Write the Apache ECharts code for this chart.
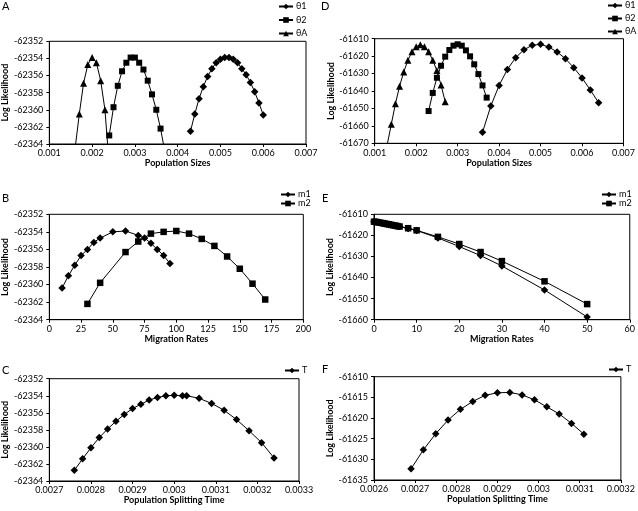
<!DOCTYPE html>
<html>
<head>
<meta charset="utf-8">
<script src="https://cdn.jsdelivr.net/npm/echarts@6/dist/echarts.min.js"></script>
<style>html,body{margin:0;padding:0;background:#fff}#c{width:638px;height:511px}</style>
</head>
<body>
<div id="c"></div>
<script>
// ---- Panel A (population sizes, dataset 1)
const aTheta1X = [0.0043,0.0044,0.0045,0.0046,0.0047,0.0048,0.0049,0.005,0.0051,0.0052,0.0053,0.0054,0.0055,0.0056,0.0057,0.0058,0.0059,0.006];
const aTheta1Y = [-62362.5,-62360.5,-62358.7,-62357.3,-62356.1,-62355.2,-62354.5,-62354.1,-62353.9,-62353.9,-62354.1,-62354.5,-62355.2,-62355.9,-62356.8,-62357.9,-62359.2,-62360.6];
const aTheta2X = [0.0024,0.0025,0.0026,0.0027,0.0028,0.0029,0.003,0.0031,0.0032,0.0033,0.0034,0.0035,0.0036,0.0037];
const aTheta2Y = [-62363.0,-62359.7,-62357.2,-62355.5,-62354.5,-62353.9,-62353.9,-62354.5,-62355.3,-62356.6,-62358.2,-62360.0,-62362.2,-62364.9];
const aThetaAX = [0.0016,0.0017,0.0018,0.0019,0.002,0.0021,0.0022,0.0023,0.0024];
const aThetaAY = [-62364.6,-62360.5,-62356.9,-62354.7,-62353.9,-62354.5,-62356.6,-62360.0,-62366.5];

// ---- Panel D (population sizes, dataset 2)
const dTheta1X = [0.0036,0.0038,0.004,0.0042,0.0044,0.0046,0.0048,0.005,0.0052,0.0054,0.0056,0.0058,0.006,0.0062,0.0064];
const dTheta1Y = [-61663.7,-61648.6,-61636.8,-61627.6,-61620.9,-61616.3,-61613.8,-61613.2,-61614.8,-61617.6,-61621.5,-61626.6,-61632.5,-61639.4,-61646.7];
const dTheta2X = [0.0023,0.0024,0.0025,0.0026,0.0027,0.0028,0.0029,0.003,0.0031,0.0032,0.0033,0.0034,0.0035,0.0036,0.0037];
const dTheta2Y = [-61651.5,-61641.1,-61632.4,-61625.5,-61620.3,-61616.5,-61614.0,-61613.2,-61614.0,-61616.7,-61620.1,-61624.7,-61630.3,-61636.8,-61643.8];
const dThetaAX = [0.0013,0.0014,0.0015,0.0016,0.0017,0.0018,0.0019,0.002,0.0021,0.0022,0.0023,0.0024,0.0025,0.0026,0.0027];
const dThetaAY = [-61671.0,-61659.1,-61647.3,-61637.3,-61629.1,-61622.4,-61617.5,-61614.6,-61613.4,-61614.6,-61617.5,-61622.4,-61628.3,-61636.6,-61646.1];

// ---- Panel B (migration rates, dataset 1)
const bM1X = [10,15,20,25,30,35,40,50,60,70,75,80,85,90,95];
const bM1Y = [-62360.4,-62359.0,-62357.8,-62356.7,-62356.0,-62355.2,-62354.7,-62354.0,-62353.9,-62354.4,-62354.7,-62355.3,-62356.0,-62356.7,-62357.6];
const bM2X = [30,40,60,70,80,90,100,110,120,130,140,150,160,170];
const bM2Y = [-62362.2,-62359.8,-62356.3,-62355.1,-62354.2,-62354.0,-62353.9,-62354.2,-62354.8,-62355.6,-62356.8,-62358.2,-62359.9,-62361.7];

// ---- Panel E (migration rates, dataset 2)
const eM1X = [0,0.5,1,1.5,2,2.5,3,3.5,4,4.5,5,5.5,6,8,10,15,20,25,30,40,50];
const eM1Y = [-61613.5,-61613.6,-61613.8,-61614.0,-61614.2,-61614.4,-61614.6,-61614.8,-61615.0,-61615.2,-61615.4,-61615.6,-61615.8,-61616.7,-61617.7,-61621.2,-61625.3,-61629.6,-61634.5,-61645.9,-61658.7];
const eM2X = [0,0.5,1,1.5,2,2.5,3,3.5,4,4.5,5,5.5,6,8,10,15,20,25,30,40,50];
const eM2Y = [-61613.5,-61613.6,-61613.8,-61614.0,-61614.2,-61614.4,-61614.6,-61614.8,-61615.0,-61615.2,-61615.4,-61615.6,-61615.8,-61616.6,-61617.6,-61620.7,-61624.1,-61627.9,-61632.2,-61641.8,-61652.6];

// ---- Panel C (splitting time, dataset 1)
const cTX = [0.00276,0.00278,0.0028,0.00282,0.00284,0.00286,0.00288,0.0029,0.00292,0.00294,0.00296,0.00298,0.003,0.00302,0.00303,0.00306,0.00309,0.00312,0.00315,0.00318,0.00321,0.00324];
const cTY = [-62362.75,-62361.4,-62360.1,-62358.9,-62357.9,-62357.0,-62356.2,-62355.5,-62355.0,-62354.5,-62354.2,-62354.0,-62353.95,-62354.0,-62354.0,-62354.3,-62354.9,-62355.7,-62356.8,-62358.1,-62359.5,-62361.3];

// ---- Panel F (splitting time, dataset 2)
const fTX = [0.00269,0.00272,0.00275,0.00278,0.00281,0.00284,0.00287,0.0029,0.00293,0.00296,0.00299,0.00302,0.00305,0.00308,0.00311];
const fTY = [-61632.3,-61627.7,-61623.8,-61620.5,-61617.9,-61616.0,-61614.5,-61613.9,-61613.8,-61614.4,-61615.6,-61617.3,-61619.0,-61621.3,-61623.9];

// ---- axis titles / panel letters
const panelLetters = ['A','D','B','E','C','F'];
const xTitles = ['Population Sizes','Population Sizes','Migration Rates','Migration Rates','Population Splitting Time','Population Splitting Time'];
const yTitle = 'Log Likelihood';

const FONT = 'Lato, "Liberation Sans", sans-serif';
const fmtNum = v => String(+(+v).toFixed(6));

const grids = [
  {left:49, top:41.3, width:257, height:102.7},
  {left:374.7, top:38.7, width:249.3, height:104.6},
  {left:49, top:214.3, width:254.3, height:105.4},
  {left:374, top:214.3, width:256.7, height:105.4},
  {left:49, top:378.7, width:250, height:102.3},
  {left:374, top:376.7, width:251, height:103.3}
];
const xCfg = [
  {min:0.001,max:0.007,interval:0.001},
  {min:0.001,max:0.007,interval:0.001},
  {min:0,max:200,interval:25},
  {min:0,max:60,interval:10},
  {min:0.0027,max:0.0033,interval:0.0001},
  {min:0.0026,max:0.0032,interval:0.0001}
];
const yCfg = [
  {min:-62364,max:-62352,interval:2},
  {min:-61670,max:-61610,interval:10},
  {min:-62364,max:-62352,interval:2},
  {min:-61660,max:-61610,interval:10},
  {min:-62364,max:-62352,interval:2},
  {min:-61635,max:-61610,interval:5}
];
const yGap = [30,39,30,39,30,39];
const xGap = [13,13,15,15,13,13];

const axisLine = {show:true, lineStyle:{color:'#000', width:1}};
const axisTick = {show:true, inside:false, length:3, lineStyle:{color:'#000'}};
const labelStyle = {color:'#000', fontFamily:FONT, fontSize:9};

const xAxis = xCfg.map((c,i)=>({
  type:'value', gridIndex:i, min:c.min, max:c.max, interval:c.interval,
  axisLine, axisTick, splitLine:{show:false},
  axisLabel:{...labelStyle, margin:5, formatter:fmtNum, showMaxLabel:true, showMinLabel:true},
  name:xTitles[i], nameLocation:'middle', nameGap:xGap[i],
  nameTextStyle:{color:'#000', fontFamily:FONT, fontSize:9, fontWeight:'bold'}
}));
const yAxis = yCfg.map((c,i)=>({
  type:'value', gridIndex:i, min:c.min, max:c.max, interval:c.interval,
  axisLine, axisTick, splitLine:{show:false},
  axisLabel:{...labelStyle, margin:6, formatter:v=>String(v)},
  name:yTitle, nameLocation:'middle', nameGap:yGap[i], nameRotate:90,
  nameTextStyle:{color:'#000', fontFamily:FONT, fontSize:9, fontWeight:'bold'}
}));

function mk(name, xs, ys, gi, symbol, size){
  return {
    type:'line', name, xAxisIndex:gi, yAxisIndex:gi,
    data: xs.map((x,k)=>[x, ys[k]]),
    symbol, symbolSize:size, showSymbol:true, clip:true,
    lineStyle:{color:'#000', width:1}, itemStyle:{color:'#000'},
    animation:false, emphasis:{disabled:true}
  };
}
const series = [
  mk('θ1', aTheta1X, aTheta1Y, 0, 'diamond', 7.5),
  mk('θ2', aTheta2X, aTheta2Y, 0, 'rect', 6),
  mk('θA', aThetaAX, aThetaAY, 0, 'triangle', 7),
  mk('θ1 ', dTheta1X, dTheta1Y, 1, 'diamond', 7.5),
  mk('θ2 ', dTheta2X, dTheta2Y, 1, 'rect', 6),
  mk('θA ', dThetaAX, dThetaAY, 1, 'triangle', 7),
  mk('m1', bM1X, bM1Y, 2, 'diamond', 7.5),
  mk('m2', bM2X, bM2Y, 2, 'rect', 6.5),
  mk('m1 ', eM1X, eM1Y, 3, 'diamond', 7.5),
  mk('m2 ', eM2X, eM2Y, 3, 'rect', 6.5),
  mk('T', cTX, cTY, 4, 'diamond', 7.5),
  mk('T ', fTX, fTY, 5, 'diamond', 7.5)
];

function lg(names, left, top, gap){
  return {
    data: names, orient:'vertical', left, top, itemGap:gap,
    itemWidth:14, itemHeight:7, padding:0, selectedMode:false,
    textStyle:{color:'#000', fontFamily:FONT, fontSize:9, padding:[0,0,0,-2]},
    formatter: n => n.trim()
  };
}
const legend = [
  lg(['θ1','θ2','θA'], 278, 2, 4.5),
  lg(['θ1 ','θ2 ','θA '], 607, 1, 4),
  lg(['m1','m2'], 280, 190, 0),
  lg(['m1 ','m2 '], 601, 190, 0),
  lg(['T'], 284, 366, 3),
  lg(['T '], 608, 365, 3)
];

const letterPos = [[2,1],[321,1],[2,193],[322,193],[2,365],[322,364]];
const graphic = panelLetters.map((t,i)=>({
  type:'text', left:letterPos[i][0], top:letterPos[i][1],
  style:{text:t, fill:'#000', font:'11px ' + FONT}
}));

const chart = echarts.init(document.getElementById('c'), null, {renderer:'canvas'});
chart.setOption({
  animation:false,
  backgroundColor:'#fff',
  grid: grids.map(g=>({...g, show:true, borderColor:'#000', borderWidth:1, backgroundColor:'transparent', containLabel:false})),
  xAxis, yAxis, series, legend, graphic
});
</script>
</body>
</html>
